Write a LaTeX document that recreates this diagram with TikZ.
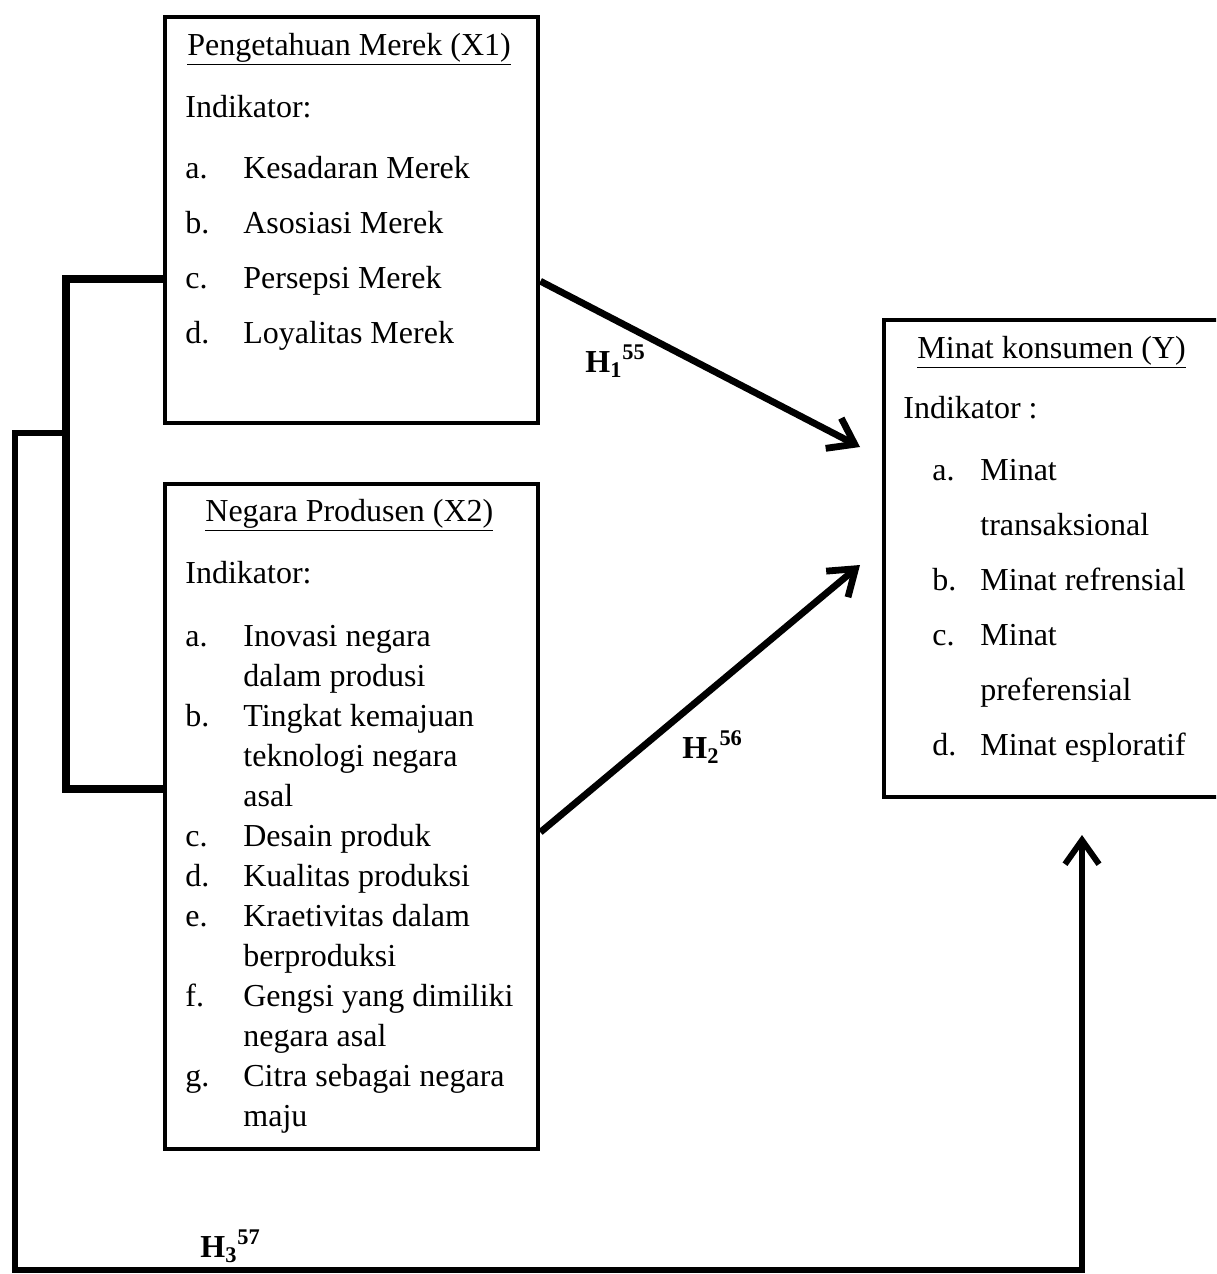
\documentclass[tikz,border=0pt]{standalone}
\usepackage{fontspec}
\setmainfont{Liberation Serif}
\usetikzlibrary{arrows.meta,positioning}

\tikzset{
	varbox/.style={draw, line width=2.2pt, inner sep=0pt, anchor=north west},
	boxtext/.style={inner sep=0pt, anchor=base west, font=\fontsize{16}{20}\selectfont},
	hlabel/.style={inner sep=0pt, anchor=base west, font=\fontsize{16}{20}\selectfont\bfseries},
	bracket/.style={line width=4pt},
	link/.style={line width=3.4pt, -{Straight Barb[length=12pt,width=17pt]}},
	longlink/.style={line width=3pt, -{Straight Barb[length=12pt,width=17pt]}},
}

\begin{document}
\begin{tikzpicture}[x=0.5pt,y=-0.5pt]
		%%%%% START %%%%%
		\clip (0,0) rectangle (1216,1274);
		
		% boxes
		\node[varbox, minimum width=186.5pt, minimum height=203pt] (x1) at (163,15) {};
		\node[varbox, minimum width=186.5pt, minimum height=332.5pt] (x2) at (163,482) {};
		\node[varbox, minimum width=175pt, minimum height=238.5pt] (y) at (882,318) {};
		
		% box texts
		\node[boxtext] (x1text) at (185,55) {\begin{tabular}[t]{@{}p{29pt}@{}l@{}}
			\multicolumn{2}{@{\hspace{1pt}}l@{}}{\underline{Pengetahuan Merek (X1)}}\\[11pt]
			\multicolumn{2}{@{}l@{}}{Indikator:}\\[10.5pt]
			a. & Kesadaran Merek\\[7.5pt]
			b. & Asosiasi Merek\\[7.5pt]
			c. & Persepsi Merek\\[7.5pt]
			d. & Loyalitas Merek
		\end{tabular}};
		
		\node[boxtext] (x2text) at (185,521) {\begin{tabular}[t]{@{}p{29pt}@{}l@{}}
			\multicolumn{2}{@{\hspace{10pt}}l@{}}{\underline{Negara Produsen (X2)}}\\[11pt]
			\multicolumn{2}{@{}l@{}}{Indikator:}\\[11.5pt]
			a. & Inovasi negara\\
			   & dalam produsi\\
			b. & Tingkat kemajuan\\
			   & teknologi negara\\
			   & asal\\
			c. & Desain produk\\
			d. & Kualitas produksi\\
			e. & Kraetivitas dalam\\
			   & berproduksi\\
			f. & Gengsi yang dimiliki\\
			   & negara asal\\
			g. & Citra sebagai negara\\
			   & maju
		\end{tabular}};
		
		\node[boxtext] (ytext) at (903,358) {\begin{tabular}[t]{@{\hspace{14.5pt}}p{24pt}@{}l@{}}
			\multicolumn{2}{@{\hspace{7pt}}l@{}}{\underline{Minat konsumen (Y)}}\\[10pt]
			\multicolumn{2}{@{}l@{}}{Indikator :}\\[11pt]
			a. & Minat\\[7.5pt]
			   & transaksional\\[7.5pt]
			b. & Minat refrensial\\[7.5pt]
			c. & Minat\\[7.5pt]
			   & preferensial\\[7.5pt]
			d. & Minat esploratif
		\end{tabular}};
		
		% hypothesis labels
		\node[hlabel] (h1) at (585,372) {H\textsubscript{1}\textsuperscript{55}};
		\node[hlabel] (h2) at (682,758) {H\textsubscript{2}\textsuperscript{56}};
		\node[hlabel] (h3) at (200,1257) {H\textsubscript{3}\textsuperscript{57}};
		
		% connectors
		\coordinate (j1) at (66,433);
		\coordinate (h3corner) at (15,1270);
		\coordinate (h1tip) at (860,447);
		\coordinate (h2tip) at (860,565);
		\coordinate (h3tip) at (1082,835);
		
		\draw[bracket] ([yshift=-29.5pt]x1.west) -| (j1) |- ([yshift=13.75pt]x2.west);
		\draw[link] ([yshift=-30.5pt]x1.east) -- (h1tip);
		\draw[link] ([yshift=-7.75pt]x2.east) -- (h2tip);
		\draw[longlink] (j1) -| (h3corner) -| (h3tip);
		
		%%%%% END %%%%%
\end{tikzpicture}
\end{document}
